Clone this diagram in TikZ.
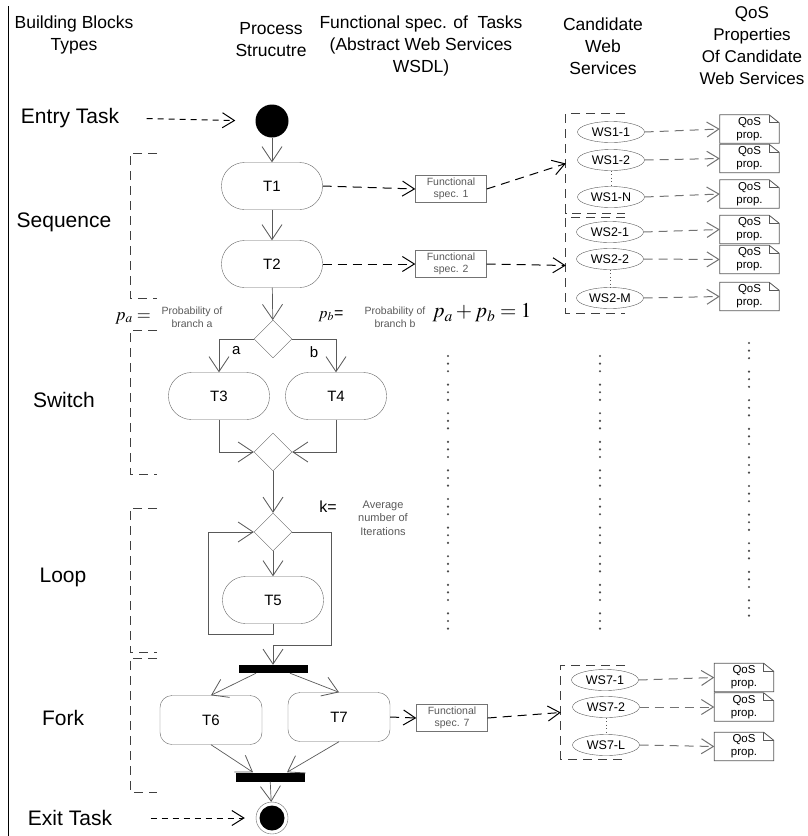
\documentclass[tikz,border=0pt]{standalone}
\usepackage{mathptmx}
\usepackage{fontspec}
\setmainfont{Liberation Sans}
\usetikzlibrary{arrows.meta, shapes.geometric}
\newcommand{\fsz}[2]{\fontsize{#1}{#2}\selectfont}
\tikzset{
    x=1pt, y=-1pt,
    hdr/.style={align=center, font=\fsz{17.5}{22}},
    blklbl/.style={font=\fsz{21}{24}},
    task/.style={draw=black!60, rounded corners=23pt, minimum width=101pt,
                 minimum height=47pt, font=\fsz{15}{18}},
    ftask/.style={task, rounded corners=12pt, minimum width=102pt,
                  minimum height=49pt},
    gate/.style={diamond, draw=black!60, minimum width=38pt,
                 minimum height=38pt, inner sep=0pt},
    bar/.style={fill=black, minimum width=69pt, minimum height=8pt,
                inner sep=0pt},
    spec/.style={draw=black!55, text=black!65, align=center,
                 font=\fsz{10.5}{12}, minimum width=71pt, minimum height=27pt,
                 inner sep=0pt},
    ws/.style={ellipse, draw=black!65, minimum width=67pt, minimum height=21pt,
               inner sep=0pt, font=\fsz{12.5}{14}},
    grp/.style={minimum width=59pt, inner sep=0pt},
    qos/.style={minimum width=59pt, minimum height=28pt, inner sep=0pt,
                align=center, font=\fsz{11.5}{13}},
    docline/.style={draw=black!65, line width=0.8pt},
    flow/.style={-{Straight Barb[length=15pt, width=20pt, line width=0.8pt]},
                 draw=black!65, line width=0.7pt},
    dflow/.style={-{Straight Barb[length=12pt, width=15pt, line width=1pt]},
                  draw=black, line width=1pt, dash pattern=on 9pt off 6pt},
    gflow/.style={dflow, draw=black!55},
    brk/.style={draw=black!75, line width=1pt, dash pattern=on 9pt off 6pt},
    note/.style={text=black!65, align=center, font=\fsz{10.5}{12.5}},
}
% QoS property sheet with folded corner
\newcommand{\qosdoc}[2]{%
    \node[qos] (#1) at (#2) {QoS\\prop.};
    \draw[docline] (#1.south west) -- (#1.north west) -- ([xshift=-10pt]#1.north east)
        -- ([yshift=-8pt]#1.north east) -- (#1.south east) -- cycle;
    \draw[docline] ([xshift=-10pt]#1.north east) -- ([xshift=-10pt,yshift=-8pt]#1.north east)
        -- ([yshift=-8pt]#1.north east);
}

\begin{document}
\begin{tikzpicture}
    \useasboundingbox (0,0) rectangle (807,836);
    \draw[line width=1pt] (8,6) -- (8,836);

    % column headers
    \node[hdr] (hbb) at (74,35) {Building Blocks\\Types};
    \node[hdr] (hps) at (271,40) {Process\\Strucutre};
    \node[hdr] (hfs) at (421,46) {Functional spec. of\ \ Tasks\\(Abstract Web Services\\WSDL)};
    \node[hdr] (hcw) at (603,46) {Candidate\\Web\\Services};
    \node[hdr, font=\fsz{17}{22}] (hqs) at (752,46) {QoS\\Properties\\Of Candidate\\Web Services};

    % building block types
    \node[blklbl] (lentry) at (70,118) {Entry Task};
    \node[blklbl] (lseq) at (64,222) {Sequence};
    \node[blklbl] (lsw) at (64,400) {Switch};
    \node[blklbl] (lloop) at (63,577) {Loop};
    \node[blklbl] (lfork) at (63,718) {Fork};
    \node[blklbl] (lexit) at (70,818) {Exit Task};

    \draw[brk] (157,153) -| (130,298) -- (157,298);
    \draw[brk] (157,330) -| (130,474) -- (157,474);
    \draw[brk] (157,508) -| (130,652) -- (157,652);
    \draw[brk] (157,658) -| (130,792) -- (157,792);

    % process structure
    \node[circle, fill=black, minimum size=33pt, inner sep=0pt] (start) at (272,121) {};
    \node[task] (t1) at (272,186) {T1};
    \node[task] (t2) at (272,264) {T2};
    \node[gate] (d1) at (273,339) {};
    \node[task] (t3) at (219,396) {T3};
    \node[task] (t4) at (336,396) {T4};
    \node[gate] (d2) at (273,452) {};
    \node[gate] (d3) at (273,532) {};
    \node[task] (t5) at (273,600) {T5};
    \node[bar] (fork1) at (273,669) {};
    \node[ftask] (t6) at (211,720) {T6};
    \node[ftask] (t7) at (339,717) {T7};
    \node[bar, minimum height=9pt] (join) at (270,777) {};
    \node[circle, draw=black!60, minimum size=32pt, inner sep=0pt,
          path picture={\fill (path picture bounding box.center) circle (12.5pt);}]
          (end) at (272,818) {};
    \coordinate (lpl) at (208,634);
    \coordinate (lpr) at (331,645);

    \draw[dflow, dash pattern=on 6pt off 5pt, shorten <=24pt, shorten >=20pt] (lentry.east) -- (start.west);
    \draw[dflow, dash pattern=on 6pt off 5pt, shorten <=35pt, shorten >=11pt] (lexit.east) -- (end.west);

    \draw[flow] (start) -- (t1);
    \draw[flow] (t1) -- (t2);
    \draw[flow] (t2) -- (d1);
    \draw[flow] (d1.west) -| (t3.north) node[pos=0.25, below=4pt, font=\fsz{15}{18}] {a};
    \draw[flow] (d1.east) -| (t4.north) node[pos=0.25, below=4pt, font=\fsz{15}{18}] {b};
    \draw[flow] (t3.south) |- (d2.west);
    \draw[flow] (t4.south) |- (d2.east);
    \draw[flow] (d2) -- (d3);
    \draw[flow] (d3) -- (t5);
    \draw[flow] (t5.south) |- (lpl) |- (d3.west);
    \draw[flow] (d3.east) -| (lpr) -| (fork1.north);
    \draw[flow] ([xshift=-17pt]fork1.south) -- (t6.north);
    \draw[flow] ([xshift=17pt]fork1.south) -- (t7.north);
    \draw[flow] (t6.south) -- ([xshift=-17pt]join.north);
    \draw[flow] (t7.south) -- ([xshift=17pt]join.north);
    \draw[flow] (join) -- (end);

    % probabilities and iterations
    \node[font=\fsz{18}{20}] (pa) at (133,318) {$p_a=$};
    \node[note] (pad) at (192,317) {Probability of\\branch a};
    \node[font=\fsz{16}{18}] (pb) at (331,316) {$p_b$=};
    \node[note] (pbd) at (395,317) {Probability of\\branch b};
    \node[font=\fsz{21}{22}] (psum) at (482,313) {$p_a+p_b=1$};
    \node[font=\fsz{16}{18}] (k) at (328,507) {k=};
    \node[note, font=\fsz{11}{13.5}] (kd) at (383,518) {Average\\number of\\Iterations};

    % functional specs
    \node[spec] (fs1) at (451,189) {Functional\\spec. 1};
    \node[spec] (fs2) at (451,264) {Functional\\spec. 2};
    \node[spec] (fs7) at (452,718) {Functional\\spec. 7};

    % candidate web services
    \node[grp, minimum height=99pt] (g1) at (595.5,163.5) {};
    \node[grp, minimum height=95pt] (g2) at (595.5,265.5) {};
    \node[grp, minimum width=64pt, minimum height=93pt] (g7) at (593,712.5) {};
    \foreach \g in {g1,g2,g7}
        \draw[brk] (\g.north east) -- (\g.north west) -- (\g.south west) -- (\g.south east);

    \node[ws] (w11) at (611,132) {WS1-1};
    \node[ws] (w12) at (611,160) {WS1-2};
    \node[ws] (w1n) at (611,197) {WS1-N};
    \node[ws] (w21) at (610,232) {WS2-1};
    \node[ws] (w22) at (610,259) {WS2-2};
    \node[ws] (w2m) at (610,298) {WS2-M};
    \node[ws] (w71) at (605,680) {WS7-1};
    \node[ws] (w72) at (606,707) {WS7-2};
    \node[ws] (w7l) at (606,745) {WS7-L};
    \draw[black!65, line width=1pt, dash pattern=on 1pt off 2.5pt] (w12.south) -- (w1n.north);
    \draw[black!65, line width=1pt, dash pattern=on 1pt off 2.5pt] (w22.south) -- (w2m.north);
    \draw[black!65, line width=1pt, dash pattern=on 1pt off 2.5pt] (w72.south) -- (w7l.north);

    % QoS properties
    \qosdoc{q11}{749.5,129}
    \qosdoc{q12}{749.5,158.5}
    \qosdoc{q1n}{749.5,194}
    \qosdoc{q21}{749.5,229.5}
    \qosdoc{q22}{749.5,259.5}
    \qosdoc{q2m}{749.5,296.5}
    \qosdoc{q71}{744,677.5}
    \qosdoc{q72}{744,707}
    \qosdoc{q7l}{744,746.5}

    \draw[dflow] (t1.east) -- (fs1.west);
    \draw[dflow] (fs1.east) -- (g1.west);
    \draw[dflow] (t2.east) -- (fs2.west);
    \draw[dflow] (fs2.east) -- (g2.west);
    \draw[dflow] (t7.east) -- (fs7.west);
    \draw[dflow] (fs7.east) -- (g7.west);

    \draw[gflow] (w11.east) -- (q11.west);
    \draw[gflow] (w12.east) -- (q12.west);
    \draw[gflow] (w1n.east) -- (q1n.west);
    \draw[gflow] (w21.east) -- (q21.west);
    \draw[gflow] (w22.east) -- (q22.west);
    \draw[gflow] (w2m.east) -- (q2m.west);
    \draw[gflow] (w71.east) -- (q71.west);
    \draw[gflow] (w72.east) -- (q72.west);
    \draw[gflow] (w7l.east) -- (q7l.west);

    % omitted tasks
    \foreach \cx/\cy in {448/356, 600/356, 749/343}
        \foreach \g in {0,...,9}
            \foreach \d in {0,1,2}
                \fill[black!70] (\cx, {\cy+28.6*\g+7.6*\d}) circle (1.2pt);
\end{tikzpicture}
\end{document}
